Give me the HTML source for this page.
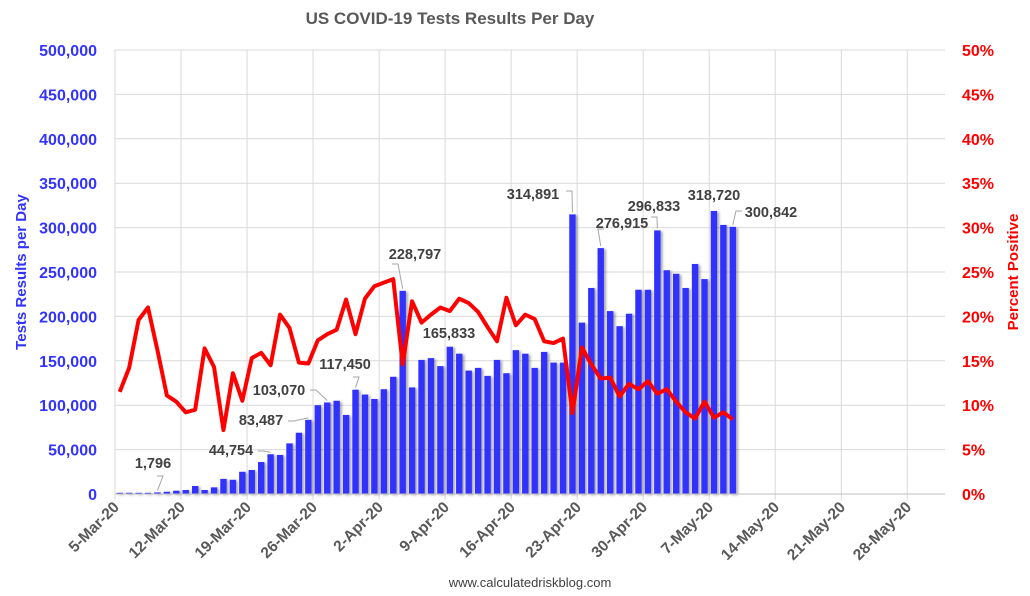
<!DOCTYPE html>
<html><head><meta charset="utf-8"><style>
html,body{margin:0;padding:0;background:#fff;}
svg{display:block;font-family:"Liberation Sans",sans-serif;}
</style></head><body>
<svg id="chart" width="1030" height="596" viewBox="0 0 1030 596">
<defs><filter id="sh" x="-50%" y="-10%" width="250%" height="130%"><feDropShadow dx="2" dy="1" stdDeviation="1.2" flood-color="#000" flood-opacity="0.35"/></filter></defs>
<text x="450" y="24" text-anchor="middle" font-size="17" font-weight="bold" fill="#595959">US COVID-19 Tests Results Per Day</text>
<g id="grid"></g><g id="bars" filter="url(#sh)"></g><g id="line"></g><g id="axes"></g><g id="labels"></g>
<text transform="translate(26,272) rotate(-90)" text-anchor="middle" font-size="15" font-weight="bold" fill="#3333ff">Tests Results per Day</text>
<text transform="translate(1018,272) rotate(-90)" text-anchor="middle" font-size="15" font-weight="bold" fill="#ff0000">Percent Positive</text>
<text x="530" y="587" text-anchor="middle" font-size="13" fill="#404040">www.calculatedriskblog.com</text>
</svg>
<script>
const tests=[200,300,400,500,1796,2500,3700,4500,9000,4500,7500,17000,16000,25000,27000,36000,44754,44000,57000,69000,83487,100000,103070,105000,89000,117450,112000,107000,118000,132000,228797,120000,151000,153000,144000,165833,158000,139000,142000,133000,151000,136000,162000,158000,142000,160000,148000,148000,314891,193000,232000,276915,206000,189000,203000,230000,230000,296833,252000,248000,232000,259000,242000,318720,303000,300842];
const pctPos=[11.5,14.2,19.6,21.0,16.2,11.1,10.4,9.2,9.5,16.4,14.3,7.2,13.6,10.5,15.3,15.9,14.5,20.2,18.7,14.8,14.7,17.3,18.0,18.5,21.9,18.0,22.0,23.4,23.8,24.2,14.6,21.7,19.3,20.2,21.0,20.6,22.0,21.5,20.5,18.8,17.2,22.1,19.0,20.2,19.7,17.2,17.0,17.5,9.1,16.5,14.6,13.0,13.1,11.0,12.4,11.8,12.7,11.3,11.8,10.4,9.2,8.5,10.4,8.6,9.2,8.4];
const leftTicks=[0,50000,100000,150000,200000,250000,300000,350000,400000,450000,500000];
const rightTicks=[0,5,10,15,20,25,30,35,40,45,50];
const dateLabels=["5-Mar-20","12-Mar-20","19-Mar-20","26-Mar-20","2-Apr-20","9-Apr-20","16-Apr-20","23-Apr-20","30-Apr-20","7-May-20","14-May-20","21-May-20","28-May-20"];
// [index, text, textX, textY, leaderStartX, leaderStartY] (leader start null = none)
const annotated=[[4,"1,796",153,468,157,476],[16,"44,754",231,455,258,451],[20,"83,487",261,425,288,421],[22,"103,070",279,395,310,390],[25,"117,450",345,369,353,377],[30,"228,797",415,259,392,264],[35,"165,833",449,338,null,null],[48,"314,891",533,199,566,191],[51,"276,915",622,228,604,229],[57,"296,833",654,211,651,217],[63,"318,720",714,200,null,null],[65,"300,842",771,217,742,211]];
const L=115,R=945,T=50,B=494,N=88,dw=(R-L)/N;
const x=i=>L+(i+0.5)*dw, yL=v=>B-(v/500000)*(B-T), yR=p=>B-(p/50)*(B-T);
const NS="http://www.w3.org/2000/svg";
function mk(t,a,p,txt){const e=document.createElementNS(NS,t);for(const k in a)e.setAttribute(k,a[k]);if(txt!=null)e.textContent=txt;document.getElementById(p).appendChild(e);return e;}
leftTicks.forEach((v,i)=>{
 const g=mk('line',{x1:L,x2:R,y1:yL(v),y2:yL(v),stroke:'#d9d9d9','stroke-width':1},'grid');
 
 
 const t=mk('text',{x:97,y:yL(v)+6,'text-anchor':'end','font-size':16,'font-weight':'bold',fill:'#3333ff'},'axes',v.toLocaleString('en-US'));
 
 
 const r=mk('text',{x:962,y:yR(rightTicks[i])+6,'font-size':16,'font-weight':'bold',fill:'#ff0000'},'axes',rightTicks[i]+'%');
 
 
});
dateLabels.forEach((d,k)=>{
 const bx=L+k*7*dw;
 const g=mk('line',{x1:bx,x2:bx,y1:T,y2:B+6,stroke:'#d9d9d9','stroke-width':1},'grid');
 
 
 const t=mk('text',{transform:`translate(${bx+5},${B+14}) rotate(-45)`,'text-anchor':'end','font-size':15.5,'font-weight':'bold',fill:'#595959'},'axes',d);
 
 
});
const ax=mk('line',{x1:L,x2:R,y1:B,y2:B,stroke:'#bfbfbf','stroke-width':1},'axes');


tests.forEach((v,i)=>{
 const h=Math.max(1.2,B-yL(v));
 const b=mk('rect',{x:x(i)-3.2,y:B-h,width:6.4,height:h,fill:'#3333ff'},'bars');
 
 
});
const pl=mk('polyline',{points:pctPos.map((p,i)=>x(i)+','+yR(p)).join(' '),fill:'none',stroke:'#ff0000','stroke-width':4,'stroke-linejoin':'round'},'line');


annotated.forEach(([i,s,tx,ty,lx,ly])=>{
 if(lx!=null){
  const ln=mk('polyline',{points:`${lx},${ly} ${lx+(x(i)>lx?6:-6)},${ly} ${x(i)},${yL(tests[i])-2}`,fill:'none',stroke:'#a6a6a6','stroke-width':1},'labels');
  
  
 }
 const t=mk('text',{x:tx,y:ty,'text-anchor':'middle','font-size':14.5,'font-weight':'bold',fill:'#404040'},'labels',s);
 
 
});
</script>
</body></html>
